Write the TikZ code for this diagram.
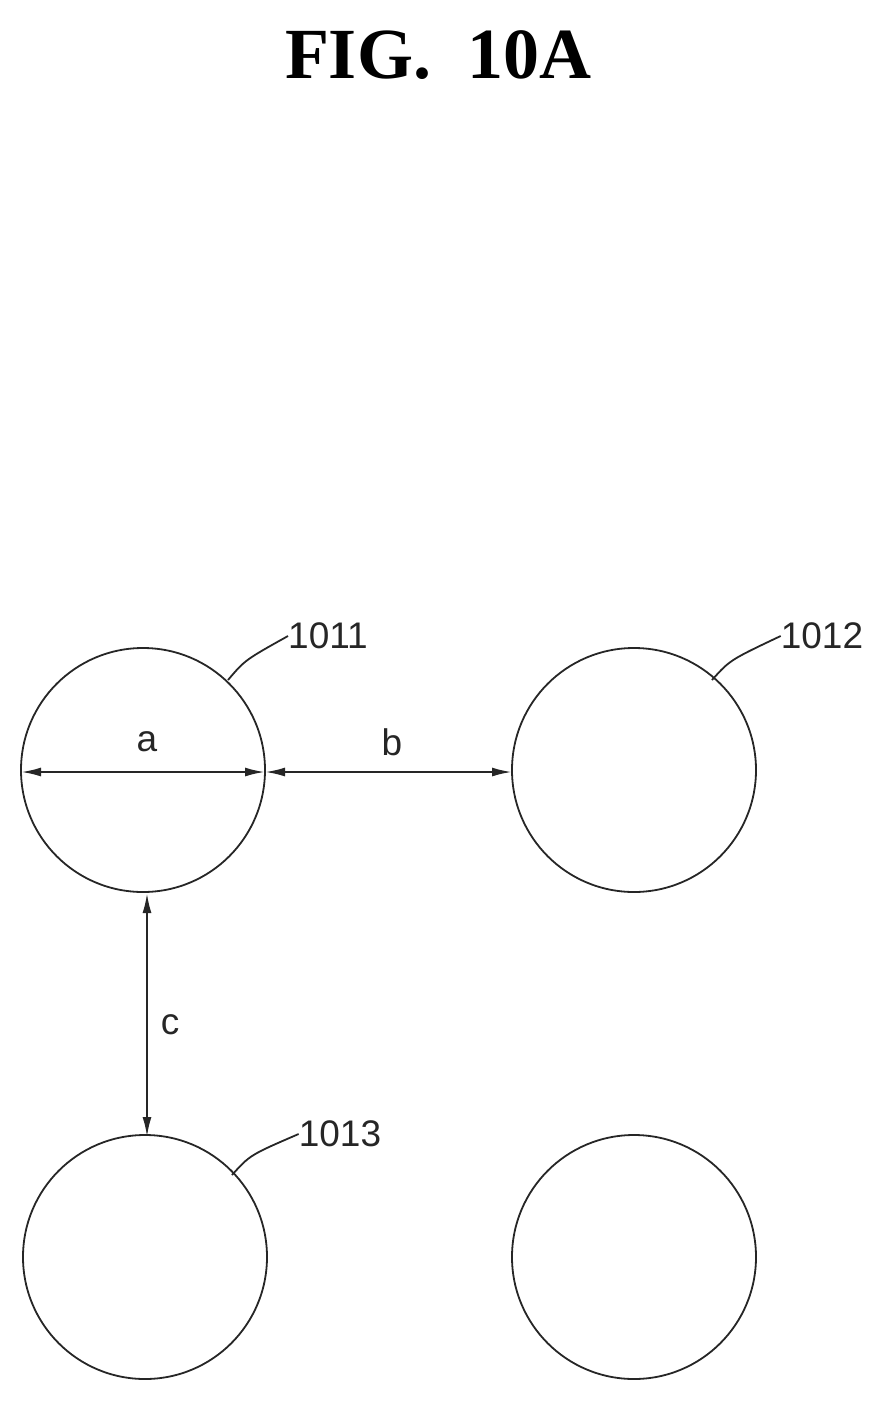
\documentclass[tikz,border=0pt]{standalone}
\usepackage{fontspec}
\setmainfont{Liberation Serif}
\newfontfamily\lab{Liberation Sans}
\usetikzlibrary{arrows.meta}
\begin{document}
\begin{tikzpicture}[x=1pt,y=-1pt,
  circ/.style={draw=black!85,line width=1.8pt,circle,minimum size=244pt,inner sep=0pt},
  dim/.style={line width=2.2pt,draw=black!85,{Latex[length=20pt,width=9pt]}-{Latex[length=20pt,width=9pt]}},
  lbl/.style={font=\lab\fontsize{37}{37}\selectfont,inner sep=0pt,text=black!85},
  lead/.style={line width=1.8pt,draw=black!85}]
\useasboundingbox (0,0) rectangle (894,1406);
\node[font=\bfseries\fontsize{72}{72}\selectfont] (title) at (438,55) {FIG.\ \ 10A};
\node[circ] (c1) at (143,770) {};
\node[circ] (c2) at (634,770) {};
\node[circ] (c3) at (145,1257) {};
\node[circ] (c4) at (634,1257) {};
\coordinate (aL) at (21,772); \coordinate (aR) at (265,772);
\coordinate (bR) at (512,772);
\coordinate (cT) at (147,893); \coordinate (cB) at (147,1137);
\draw[dim] (aL) -- (aR);
\draw[dim] (aR) -- (bR);
\draw[dim] (cT) -- (cB);
\node[lbl] (la) at (147,742) {a};
\node[lbl] (lb) at (392,742) {b};
\node[lbl] (lc) at (170,1025) {c};
\node[lbl] (t1) at (328,636) {1011};
\node[lbl] (t2) at (822,636) {1012};
\node[lbl] (t3) at (340,1134) {1013};
\coordinate (p1) at (228,680); \coordinate (p2) at (712,680); \coordinate (p3) at (232,1175);
\draw[lead] (p1) .. controls (245,660) .. (t1.west);
\draw[lead] (p2) .. controls (730,660) .. (t2.west);
\draw[lead] (p3) .. controls (250,1155) .. (t3.west);
\end{tikzpicture}
\end{document}
